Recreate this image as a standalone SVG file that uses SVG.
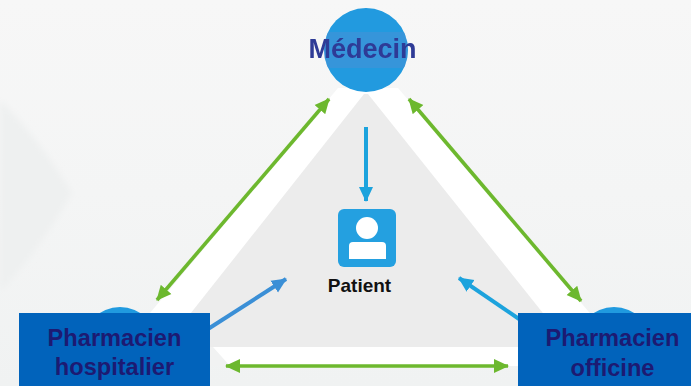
<svg xmlns="http://www.w3.org/2000/svg" width="691" height="386" viewBox="0 0 691 386">
<defs>
<linearGradient id="bg" x1="0" y1="0" x2="0" y2="1"><stop offset="0" stop-color="#f7f7f7"/><stop offset="0.5" stop-color="#f4f5f5"/><stop offset="1" stop-color="#f0f2f2"/></linearGradient>
<filter id="soft" x="-10%" y="-10%" width="120%" height="120%"><feGaussianBlur stdDeviation="0.7"/></filter>
<filter id="softer" x="-20%" y="-20%" width="140%" height="140%"><feGaussianBlur stdDeviation="3"/></filter>
<clipPath id="mc"><circle cx="366" cy="50" r="42"/></clipPath>
<marker id="g" markerUnits="userSpaceOnUse" markerWidth="16" markerHeight="16" refX="14" refY="8" orient="auto-start-reverse"><path d="M0 1L15 8L0 15Z" fill="#6cb82f"/></marker>
<marker id="b" markerUnits="userSpaceOnUse" markerWidth="16" markerHeight="16" refX="14" refY="8" orient="auto"><path d="M0 1L15 8L0 15Z" fill="#1fa3dd"/></marker>
<marker id="b2" markerUnits="userSpaceOnUse" markerWidth="16" markerHeight="16" refX="14" refY="8" orient="auto"><path d="M0 1L15 8L0 15Z" fill="#3a8fd6"/></marker>
</defs>
<style>
.lab{font-family:"Liberation Sans",Arial,sans-serif;font-weight:700;text-anchor:middle}
.ph{font-size:23.6px;fill:#1d1a72}
.box{fill:#0163bb}
.gr{stroke:#6db82f;stroke-width:3.6;fill:none;marker-start:url(#g);marker-end:url(#g)}
.node{fill:#209adf}
</style>
<rect width="691" height="386" fill="url(#bg)"/>
<path d="M0 100Q40 140 72 193Q40 250 0 292Z" fill="#eef0f0" filter="url(#softer)"/>
<g id="triangle" filter="url(#soft)">
<path d="M338 88L398 88L600 325L640 366H100L140 325Z" fill="#fff"/>
<path d="M364 94L368 94L570 347H164Z" fill="#ececec"/>
<path d="M205 347H213L230 366H205Z" fill="#f1f2f2"/>
</g>
<g id="connectors" filter="url(#soft)">
<path class="gr" d="M329 99L157 300"/>
<path class="gr" d="M409 99L581 301"/>
<path class="gr" d="M226 366L508 366"/>
<path d="M366 127L366 201" stroke="#1fa3dd" stroke-width="4" fill="none" marker-end="url(#b)"/>
<path d="M208 329L286 279" stroke="#3a8fd6" stroke-width="4" fill="none" marker-end="url(#b2)"/>
<path d="M522 321L459 278" stroke="#1fa3dd" stroke-width="4" fill="none" marker-end="url(#b)"/>
</g>
<g id="medecin">
<circle class="node" cx="366" cy="50" r="42" filter="url(#soft)"/>
<rect x="320" y="32" width="92" height="36" fill="#4a8fd6" opacity="0.5" clip-path="url(#mc)"/>
<text class="lab" x="362.5" y="58" font-size="27" fill="#2e3a96" filter="url(#soft)">Médecin</text>
</g>
<g id="patient">
<rect x="338" y="209" width="58" height="58" rx="6" fill="#24a0e0"/>
<circle cx="367" cy="228" r="11" fill="#fff"/>
<path d="M349 246Q349 242 353 242H382Q386 242 386 246V259H349Z" fill="#fff"/>
<text class="lab" x="359.5" y="292" font-size="19" fill="#111">Patient</text>
</g>
<g id="hospitalier">
<circle class="node" cx="120" cy="345" r="38"/>
<rect class="box" x="19" y="313" width="191" height="73"/>
<text class="lab ph" x="114.5" y="346">Pharmacien</text>
<text class="lab ph" x="114.5" y="375">hospitalier</text>
</g>
<g id="officine">
<circle class="node" cx="614" cy="345" r="38"/>
<rect class="box" x="518" y="313" width="173" height="73"/>
<text class="lab ph" x="612.5" y="346">Pharmacien</text>
<text class="lab ph" x="612.5" y="376">officine</text>
</g>
</svg>
